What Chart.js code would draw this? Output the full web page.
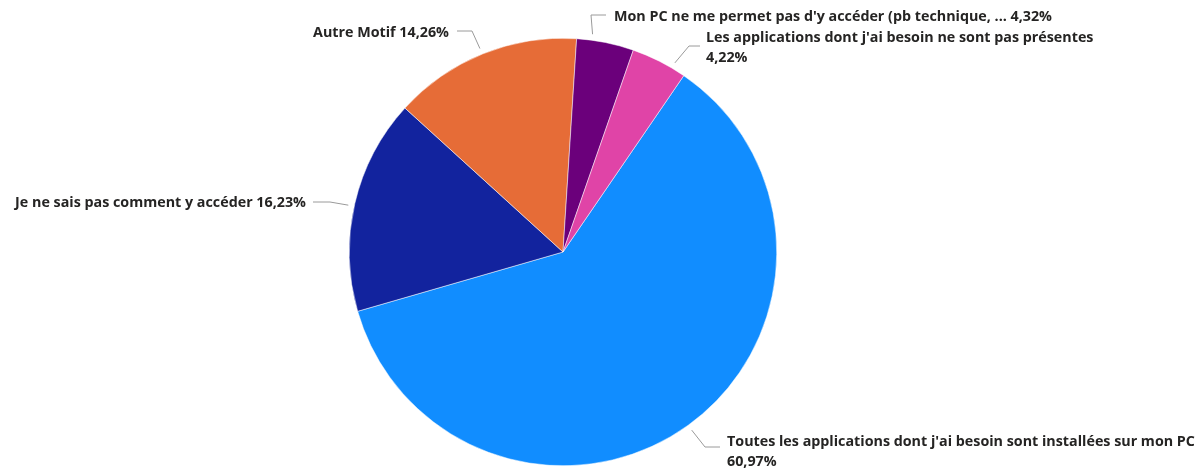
<!DOCTYPE html>
<html>
<head>
<meta charset="utf-8">
<script src="https://cdn.jsdelivr.net/npm/chart.js@4.4.1/dist/chart.umd.min.js"></script>
<style>
  html, body { margin: 0; padding: 0; background: #ffffff; }
  #wrap { width: 1198px; height: 468px; }
</style>
</head>
<body>
<div id="wrap"><canvas id="motifsChart" width="1198" height="468"></canvas></div>
<script>
// Motifs et parts (%)
const motifs = [
  "Toutes les applications dont j'ai besoin sont installées sur mon PC",
  "Je ne sais pas comment y accéder",
  "Autre Motif",
  "Mon PC ne me permet pas d'y accéder (pb technique, ...",
  "Les applications dont j'ai besoin ne sont pas présentes"
];
const parts = [60.97, 16.23, 14.26, 4.32, 4.22];
const couleurs = ["#118DFF", "#12239E", "#E66C37", "#6B007B", "#E044A7"];

// Placement des étiquettes (coude, fin du trait, texte)
const etiquettes = [
  { shift: 0,    elbow: [705, 447], end: [720, 447], tx: 727, ty: 446, align: "left",  twoLines: true },
  { shift: -0.8, elbow: [330, 202], end: [313, 202], tx: 306, ty: 207, align: "right", twoLines: false },
  { shift: -0.2, elbow: [472, 31],  end: [457, 31],  tx: 449, ty: 37,  align: "right", twoLines: false },
  { shift: -3.7, elbow: [591, 15],  end: [606, 15],  tx: 614, ty: 21,  align: "left",  twoLines: false },
  { shift: 3.8,  elbow: [689, 46],  end: [700, 46],  tx: 706, ty: 42,  align: "left",  twoLines: true }
];

const fmt = (v) => v.toFixed(2).replace(".", ",") + "%";

// Plugin pour les étiquettes avec traits de rappel
const pieLabels = {
  id: "pieLabels",
  afterDatasetsDraw(chart) {
    const ctx = chart.ctx;
    const arcs = chart.getDatasetMeta(0).data;
    ctx.save();
    etiquettes.forEach((lab, i) => {
      const a = arcs[i].getProps(["x", "y", "startAngle", "endAngle", "outerRadius"], true);
      const mid = (a.startAngle + a.endAngle) / 2 + lab.shift * Math.PI / 180;
      const r = a.outerRadius + 6;
      ctx.beginPath();
      ctx.moveTo(a.x + Math.cos(mid) * r, a.y + Math.sin(mid) * r);
      ctx.lineTo(lab.elbow[0], lab.elbow[1]);
      ctx.lineTo(lab.end[0], lab.end[1]);
      ctx.strokeStyle = "#9a9a9a";
      ctx.lineWidth = 1;
      ctx.stroke();

      ctx.fillStyle = "#252423";
      ctx.font = "bold 14.3px 'Open Sans'";
      ctx.textAlign = lab.align;
      ctx.textBaseline = "alphabetic";
      if (lab.twoLines) {
        ctx.fillText(motifs[i], lab.tx, lab.ty);
        ctx.fillText(fmt(parts[i]), lab.tx, lab.ty + 20);
      } else {
        ctx.fillText(motifs[i] + " " + fmt(parts[i]), lab.tx, lab.ty);
      }
    });
    ctx.restore();
  }
};

const ctx = document.getElementById("motifsChart").getContext("2d");
new Chart(ctx, {
  type: "pie",
  data: {
    labels: motifs,
    datasets: [{
      data: parts,
      backgroundColor: couleurs,
      borderColor: "#ffffff",
      borderWidth: 0.5,
      hoverOffset: 0
    }]
  },
  options: {
    responsive: false,
    animation: false,
    rotation: 34.4,
    layout: { padding: { left: 0, right: 72, top: 38, bottom: 2 } },
    plugins: {
      legend: { display: false },
      tooltip: { enabled: false }
    }
  },
  plugins: [pieLabels]
});
</script>
</body>
</html>
